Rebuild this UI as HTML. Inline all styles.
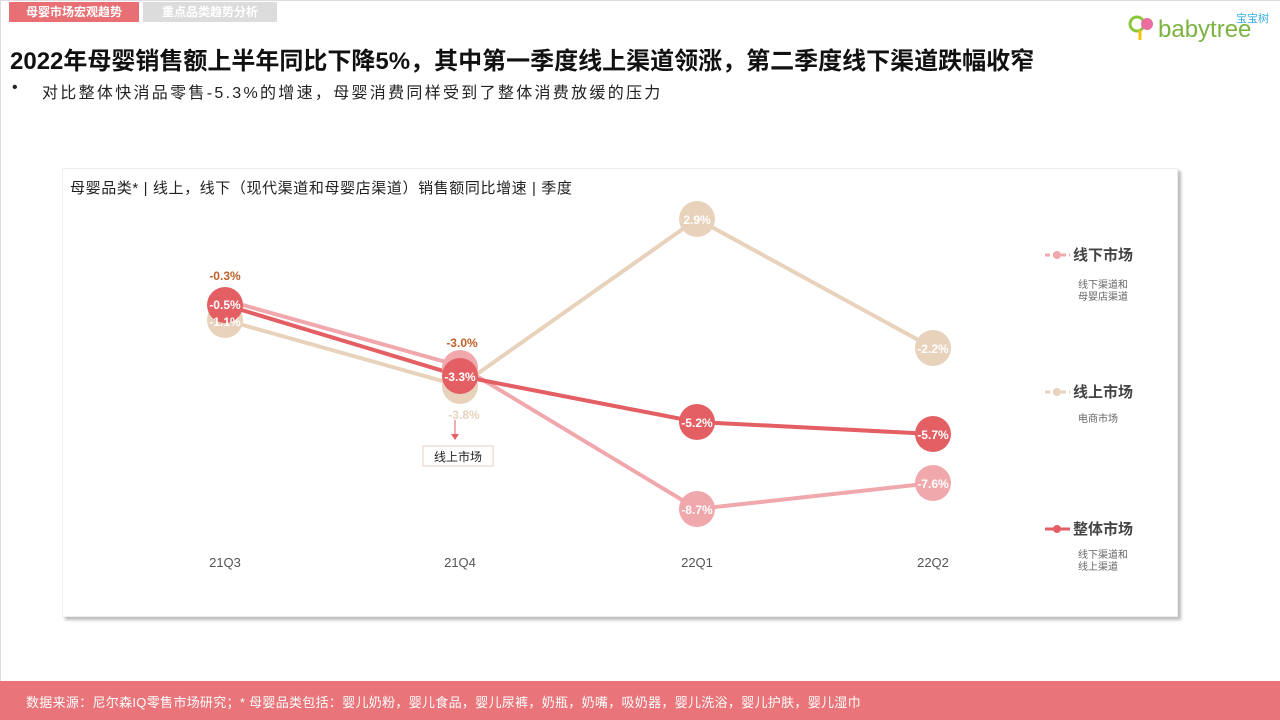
<!DOCTYPE html>
<html><head><meta charset="utf-8"><style>
body{margin:0;width:1280px;height:720px;background:#fff;position:relative;overflow:hidden;font-family:"Liberation Sans","Noto Sans CJK SC",sans-serif}
.tab{position:absolute;top:2px;height:20px;line-height:20px;font-size:12px;font-weight:bold;color:#fff;text-align:center}
</style></head><body>
<div style="position:absolute;left:0;top:0;width:1279px;height:719px;border:1px solid #ddd;border-bottom:none"></div>
<div class="tab" style="left:9px;width:130px;background:#E86F73">母婴市场宏观趋势</div>
<div class="tab" style="left:143px;width:134px;background:#dcdcdc">重点品类趋势分析</div>
<div style="position:absolute;left:10px;top:41px;font-size:24px;font-weight:bold;color:#111">2022年母婴销售额上半年同比下降5%，其中第一季度线上渠道领涨，第二季度线下渠道跌幅收窄</div>
<div style="position:absolute;left:12px;top:79px;font-size:16px;color:#222">•</div>
<div style="position:absolute;left:42px;top:79px;font-size:16px;color:#222;letter-spacing:2.3px">对比整体快消品零售-5.3%的增速，母婴消费同样受到了整体消费放缓的压力</div>
<div style="position:absolute;left:1236px;top:10px;font-size:11px;color:#3aaee0">宝宝树</div>
<svg style="position:absolute;left:1128px;top:12px" width="30" height="30"><circle cx="9" cy="12" r="7" fill="none" stroke="#8cc63f" stroke-width="3"/><circle cx="19" cy="12" r="6" fill="#e86f9e"/><line x1="12" y1="18" x2="12" y2="28" stroke="#f5c400" stroke-width="3"/></svg>
<div style="position:absolute;left:1158px;top:16px;font-size:24px;color:#7cb342">babytree</div>

<div style="position:absolute;left:62px;top:168px;width:1114px;height:447px;background:#fff;box-shadow:3px 3px 3px #bbb;border:1px solid #eee"></div>
<div style="position:absolute;left:70px;top:177px;font-size:15px;color:#222;letter-spacing:0.6px">母婴品类* | 线上，线下（现代渠道和母婴店渠道）销售额同比增速 | 季度</div>

<svg style="position:absolute;left:0;top:0" width="1280" height="720" font-family="Liberation Sans" font-weight="bold" font-size="12">
<g stroke-width="4" fill="none">
<polyline points="225,320 460,386 697,219 933,348" stroke="#E8D2BC"/>
<polyline points="225,300 460,366 697,509 933,483" stroke="#F0A8AC"/>
<polyline points="225,305 460,376 697,422 933,434" stroke="#E35F64"/>
</g>
<g>
<circle cx="225" cy="320" r="18" fill="#E8D2BC"/>
<circle cx="460" cy="386" r="18" fill="#E8D2BC"/>
<circle cx="697" cy="219" r="18" fill="#E8D2BC"/>
<circle cx="933" cy="348" r="18" fill="#E8D2BC"/>
<circle cx="460" cy="368" r="18" fill="#F0A8AC"/>
<circle cx="697" cy="509" r="18" fill="#F0A8AC"/>
<circle cx="933" cy="483" r="18" fill="#F0A8AC"/>
<circle cx="225" cy="305" r="18" fill="#E35F64"/>
<circle cx="460" cy="376" r="18" fill="#E35F64"/>
<circle cx="697" cy="422" r="18" fill="#E35F64"/>
<circle cx="933" cy="434" r="18" fill="#E35F64"/>
</g>
<g fill="#fff" text-anchor="middle">
<text x="225" y="326">-1.1%</text><text x="225" y="309">-0.5%</text>
<text x="460" y="381">-3.3%</text>
<text x="697" y="224">2.9%</text><text x="933" y="353">-2.2%</text>
<text x="697" y="427">-5.2%</text><text x="933" y="439">-5.7%</text>
<text x="697" y="514">-8.7%</text><text x="933" y="488">-7.6%</text>
</g>
<g fill="#C0602A" text-anchor="middle"><text x="225" y="280">-0.3%</text><text x="462" y="347">-3.0%</text></g>
<text x="464" y="419" fill="#E8D2BC" text-anchor="middle">-3.8%</text>
<line x1="455" y1="420" x2="455" y2="436" stroke="#E35F64" stroke-width="1"/>
<polygon points="451,434 459,434 455,440" fill="#E35F64"/>
<rect x="423" y="446" width="70" height="20" fill="#fff" stroke="#E8D2BC"/>
<text x="458" y="461" font-weight="normal" fill="#222" text-anchor="middle" font-family="Liberation Sans, Noto Sans CJK SC">线上市场</text>
<g font-weight="normal" font-size="13" fill="#555" text-anchor="middle"><text x="225" y="567">21Q3</text><text x="460" y="567">21Q4</text><text x="697" y="567">22Q1</text><text x="933" y="567">22Q2</text></g>
<g font-family="Liberation Sans, Noto Sans CJK SC">
<line x1="1045" y1="255" x2="1070" y2="255" stroke="#F0A8AC" stroke-width="3" stroke-dasharray="5,3"/><circle cx="1057" cy="255" r="4" fill="#F0A8AC"/>
<text x="1073" y="260" font-size="15" fill="#444">线下市场</text>
<text x="1078" y="288" font-size="10" font-weight="normal" fill="#666">线下渠道和</text><text x="1078" y="300" font-size="10" font-weight="normal" fill="#666">母婴店渠道</text>
<line x1="1045" y1="392" x2="1070" y2="392" stroke="#E8D2BC" stroke-width="3" stroke-dasharray="5,3"/><circle cx="1057" cy="392" r="4" fill="#E8D2BC"/>
<text x="1073" y="397" font-size="15" fill="#444">线上市场</text>
<text x="1078" y="422" font-size="10" font-weight="normal" fill="#666">电商市场</text>
<line x1="1045" y1="529" x2="1070" y2="529" stroke="#E35F64" stroke-width="3"/><circle cx="1057" cy="529" r="4" fill="#E35F64"/>
<text x="1073" y="534" font-size="15" fill="#444">整体市场</text>
<text x="1078" y="558" font-size="10" font-weight="normal" fill="#666">线下渠道和</text><text x="1078" y="570" font-size="10" font-weight="normal" fill="#666">线上渠道</text>
</g>
</svg>
<div style="position:absolute;left:0;top:681px;width:1280px;height:39px;background:#E97479"></div>
<div style="position:absolute;left:26px;top:692px;font-size:13px;color:#fff;letter-spacing:0.3px">数据来源：尼尔森IQ零售市场研究；* 母婴品类包括：婴儿奶粉，婴儿食品，婴儿尿裤，奶瓶，奶嘴，吸奶器，婴儿洗浴，婴儿护肤，婴儿湿巾</div>
</body></html>
